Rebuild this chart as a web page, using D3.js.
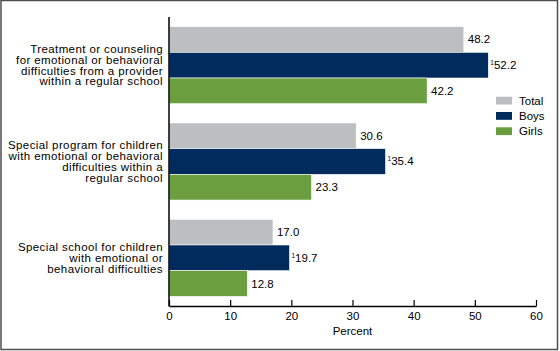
<!DOCTYPE html>
<html>
<head>
<meta charset="utf-8">
<script src="https://cdn.jsdelivr.net/npm/d3@7"></script>
<style>
  body { margin: 0; background: #fff; }
  text { font-family: "Liberation Sans", Arial, sans-serif; fill: #000; }
</style>
</head>
<body>
<div id="chart"></div>
<script>
var categories = [
    ["Treatment or counseling", "for emotional or behavioral", "difficulties from a provider", "within a regular school"],
    ["Special program for children", "with emotional or behavioral", "difficulties within a", "regular school"],
    ["Special school for children", "with emotional or", "behavioral difficulties"]
];
var series = ["Total", "Boys", "Girls"];
var totalVals = [48.2, 30.6, 17.0];
var boysVals = [52.2, 35.4, 19.7];
var girlsVals = [42.2, 23.3, 12.8];
var boysNote = ["1", "1", "1"];
var xTicks = [0, 10, 20, 30, 40, 50, 60];

var colors = { Total: "#bcbec0", Boys: "#002b5c", Girls: "#6a9e3f" };

var W = 560, H = 351;

var svg = d3.select("#chart").append("svg")
    .attr("width", W).attr("height", H);

// outer frame
svg.append("rect")
    .attr("x", 1).attr("y", 0.5)
    .attr("width", 556.5).attr("height", 349)
    .attr("fill", "none").attr("stroke", "#4d4d4d").attr("stroke-width", 1.5);

var x = d3.scaleLinear().domain([0, 60]).range([169, 536]);
var y0 = d3.scaleBand().domain(d3.range(categories.length))
    .range([17, 306]).paddingInner(0.2).paddingOuter(0.1);
var y1 = d3.scaleBand().domain(series).range([0, y0.bandwidth()]);

var rows = d3.range(categories.length).map(function (i) {
    return [
        { key: "Total", value: totalVals[i], note: "" },
        { key: "Boys", value: boysVals[i], note: boysNote[i] },
        { key: "Girls", value: girlsVals[i], note: "" }
    ];
});

var g = svg.selectAll(".grp")
    .data(rows)
    .enter().append("g")
    .attr("class", "grp")
    .attr("transform", function (d, i) { return "translate(0," + y0(i) + ")"; });

g.selectAll("rect")
    .data(function (d) { return d; })
    .enter().append("rect")
    .attr("x", x(0))
    .attr("y", function (d) { return y1(d.key); })
    .attr("width", function (d) { return x(d.value) - x(0); })
    .attr("height", y1.bandwidth())
    .attr("fill", function (d) { return colors[d.key]; })
    .attr("stroke", "#ffffff")
    .attr("stroke-width", 0.6);

var lab = g.selectAll(".val")
    .data(function (d) { return d; })
    .enter().append("text")
    .attr("class", "val")
    .attr("x", function (d) { return x(d.value) + (d.note ? 2 : 4); })
    .attr("y", function (d) { return y1(d.key) + y1.bandwidth() / 2 + 4; })
    .attr("font-size", "11.5px");
lab.filter(function (d) { return d.note; })
    .append("tspan")
    .attr("font-size", "6.5px")
    .attr("dy", -4)
    .text(function (d) { return d.note; });
lab.append("tspan")
    .attr("dy", function (d) { return d.note ? 4 : 0; })
    .text(function (d) { return d.value.toFixed(1); });

// category labels
var lineH = 10.8;
svg.selectAll(".cat")
    .data(categories)
    .enter().append("text")
    .attr("class", "cat")
    .attr("text-anchor", "end")
    .attr("font-size", "11.5px")
    .attr("letter-spacing", "0.4px")
    .each(function (lines, i) {
        var cy = y0(i) + y0.bandwidth() / 2;
        var startY = cy - (lines.length - 1) * lineH / 2 + 4;
        d3.select(this).selectAll("tspan")
            .data(lines)
            .enter().append("tspan")
            .attr("x", 163)
            .attr("y", function (l, j) { return startY + j * lineH; })
            .text(function (l) { return l; });
    });

// axes
var xAxis = d3.axisBottom(x).tickValues(xTicks).tickSizeInner(-6).tickSizeOuter(0).tickPadding(6);
var ax = svg.append("g")
    .attr("transform", "translate(0,306)")
    .call(xAxis);
ax.select(".domain").attr("stroke", "#000").attr("stroke-width", 1.5);
ax.selectAll(".tick line").attr("stroke", "#000").attr("stroke-width", 1.2);
ax.selectAll(".tick text")
    .attr("font-size", "11.5px")
    .attr("font-family", "Liberation Sans, Arial, sans-serif")
    .attr("fill", "#000");

svg.append("line")
    .attr("x1", x(0)).attr("x2", x(0))
    .attr("y1", 17).attr("y2", 306.5)
    .attr("stroke", "#000").attr("stroke-width", 1.5);

svg.append("text")
    .attr("x", x(30)).attr("y", 335)
    .attr("text-anchor", "middle")
    .attr("font-size", "11.5px")
    .text("Percent");

// legend
var leg = svg.selectAll(".leg")
    .data(series)
    .enter().append("g")
    .attr("class", "leg")
    .attr("transform", function (d, i) { return "translate(496," + (96.7 + i * 15.3) + ")"; });
leg.append("rect")
    .attr("width", 16).attr("height", 7.8)
    .attr("fill", function (d) { return colors[d]; });
leg.append("text")
    .attr("x", 23).attr("y", 8)
    .attr("font-size", "11.5px")
    .text(function (d) { return d; });
</script>
</body>
</html>
